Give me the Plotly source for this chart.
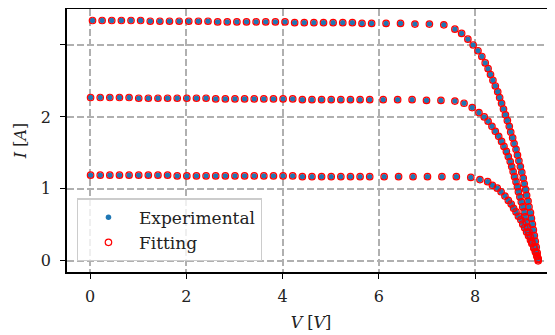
import plotly.graph_objects as go

# ---- data ----
v_top = [0.05, 0.25, 0.45, 0.65, 0.85, 1.05, 1.25, 1.45, 1.65, 1.85, 2.05, 2.25, 2.45, 2.65, 2.85,
         3.05, 3.25, 3.45, 3.65, 3.85, 4.05, 4.25, 4.45, 4.65, 4.85, 5.05, 5.25, 5.45, 5.65, 5.85,
         6.15, 6.45, 6.75, 7.05, 7.35,
         7.58, 7.72, 7.85, 7.96, 8.06, 8.14, 8.21, 8.27, 8.32, 8.37, 8.42, 8.47, 8.51, 8.55, 8.59,
         8.63, 8.67, 8.71, 8.74, 8.78, 8.81, 8.85, 8.88, 8.91, 8.94, 8.97, 9.00, 9.02, 9.05, 9.07,
         9.10, 9.12, 9.15, 9.17, 9.19, 9.21, 9.23, 9.25, 9.27, 9.29, 9.31]
i_top = [3.34, 3.34, 3.34, 3.34, 3.34, 3.34, 3.33, 3.33, 3.33, 3.33, 3.33, 3.33, 3.33, 3.32, 3.32,
         3.32, 3.32, 3.32, 3.32, 3.32, 3.32, 3.31, 3.31, 3.31, 3.31, 3.31, 3.31, 3.31, 3.30, 3.30,
         3.30, 3.30, 3.29, 3.29, 3.28,
         3.22, 3.16, 3.08, 3.00, 2.92, 2.84, 2.75, 2.67, 2.59, 2.51, 2.43, 2.35, 2.27, 2.19, 2.11,
         2.03, 1.95, 1.87, 1.79, 1.71, 1.63, 1.55, 1.47, 1.39, 1.31, 1.23, 1.15, 1.07, 0.99, 0.91,
         0.83, 0.75, 0.67, 0.59, 0.51, 0.43, 0.35, 0.27, 0.19, 0.11, 0.03]

v_mid = [0.01, 0.21, 0.41, 0.61, 0.81, 1.01, 1.21, 1.41, 1.61, 1.81, 2.01, 2.21, 2.41, 2.61, 2.81,
         3.01, 3.21, 3.41, 3.61, 3.81, 4.01, 4.21, 4.41, 4.61, 4.81, 5.01, 5.21, 5.41, 5.61, 5.81,
         6.09, 6.39, 6.69, 6.99, 7.29,
         7.58, 7.77, 7.94, 8.08, 8.19, 8.27, 8.35, 8.42, 8.49, 8.55, 8.60, 8.65, 8.69, 8.73, 8.76,
         8.79, 8.82, 8.85, 8.88, 8.90, 8.93, 8.96, 8.99, 9.02, 9.04, 9.06, 9.09, 9.12, 9.15, 9.18,
         9.22, 9.26, 9.29, 9.31]
i_mid = [2.27, 2.27, 2.27, 2.27, 2.27, 2.26, 2.26, 2.26, 2.26, 2.26, 2.26, 2.26, 2.26, 2.25, 2.25,
         2.25, 2.25, 2.25, 2.25, 2.25, 2.25, 2.25, 2.24, 2.24, 2.24, 2.24, 2.24, 2.24, 2.24, 2.24,
         2.24, 2.24, 2.24, 2.23, 2.23,
         2.22, 2.19, 2.13, 2.06, 2.00, 1.94, 1.87, 1.80, 1.73, 1.66, 1.59, 1.52, 1.45, 1.38, 1.31,
         1.24, 1.17, 1.10, 1.03, 0.96, 0.89, 0.82, 0.75, 0.68, 0.61, 0.54, 0.47, 0.40, 0.33, 0.26,
         0.19, 0.12, 0.06, 0.00]

v_low = [0.01, 0.21, 0.41, 0.61, 0.81, 1.01, 1.21, 1.41, 1.61, 1.81, 2.01, 2.21, 2.41, 2.61, 2.81,
         3.01, 3.21, 3.41, 3.61, 3.81, 4.01, 4.21, 4.41, 4.61, 4.81, 5.01, 5.21, 5.41, 5.61, 5.81,
         6.11, 6.41, 6.71, 7.01, 7.31, 7.61,
         7.91, 8.10, 8.26, 8.36, 8.46, 8.54, 8.62, 8.69, 8.75, 8.80, 8.85, 8.90, 8.95, 8.99, 9.03,
         9.07, 9.11, 9.15, 9.18, 9.22, 9.25, 9.28, 9.31]
i_low = [1.19, 1.19, 1.19, 1.19, 1.19, 1.19, 1.19, 1.19, 1.19, 1.18, 1.18, 1.18, 1.18, 1.18, 1.18,
         1.18, 1.18, 1.18, 1.18, 1.18, 1.18, 1.18, 1.17, 1.17, 1.17, 1.17, 1.17, 1.17, 1.17, 1.17,
         1.17, 1.17, 1.17, 1.17, 1.17, 1.17,
         1.16, 1.13, 1.10, 1.05, 1.01, 0.96, 0.90, 0.84, 0.79, 0.73, 0.68, 0.62, 0.57, 0.51, 0.46,
         0.40, 0.35, 0.29, 0.24, 0.18, 0.13, 0.07, 0.02]

x_ticks = [0, 2, 4, 6, 8]
y_ticks = [0, 1, 2, 3]
y_tick_labels = ["0", "1", "2", ""]

V_all = v_top + v_mid + v_low
I_all = i_top + i_mid + i_low

FONT = "DejaVu Serif"

fig = go.Figure()
fig.add_trace(go.Scatter(
    x=V_all, y=I_all, mode="markers", name="Experimental",
    marker=dict(color="#1f77b4", size=5.5, line=dict(width=0)),
))
fig.add_trace(go.Scatter(
    x=V_all, y=I_all, mode="markers", name="Fitting",
    marker=dict(symbol="circle-open", color="#ff0000", size=6.5, line=dict(width=1.2, color="#ff0000")),
))

axis_common = dict(
    showgrid=True, gridcolor="#b0b0b0", gridwidth=1.5, griddash="7px,3px",
    zeroline=False, showline=True, linecolor="black", linewidth=1.5,
    ticks="outside", ticklen=5, tickwidth=1.3, tickcolor="black",
    tickfont=dict(family=FONT, size=16, color="#222"),
    automargin=False,
)

# page body has an 8px default margin, so the margins below are offset by 8px
fig.update_layout(
    width=555, height=335,
    margin=dict(l=59, r=8, t=1, b=71, autoexpand=False),
    paper_bgcolor="white", plot_bgcolor="white",
    font=dict(family=FONT, size=16, color="#222"),
    xaxis=dict(range=[-0.48, 9.66], tickvals=x_ticks, mirror=True, ticklabelstandoff=4,
               title=dict(text="<i>V</i> [<i>V</i>]", font=dict(family=FONT, size=16), standoff=12),
               **axis_common),
    yaxis=dict(range=[-0.155, 3.5], tickvals=y_ticks, ticktext=y_tick_labels, ticklabelstandoff=6,
               title=dict(text="<i>I</i> [<i>A</i>]", font=dict(family=FONT, size=16), standoff=10),
               **axis_common),
    legend=dict(x=0.02, y=0.04, xanchor="left", yanchor="bottom",
                bgcolor="rgba(255,255,255,0.8)", bordercolor="#cccccc", borderwidth=1.2,
                font=dict(family=FONT, size=17, color="#222"), itemwidth=51,
                tracegroupgap=2),
    showlegend=True,
)

fig.write_html("out.html")
